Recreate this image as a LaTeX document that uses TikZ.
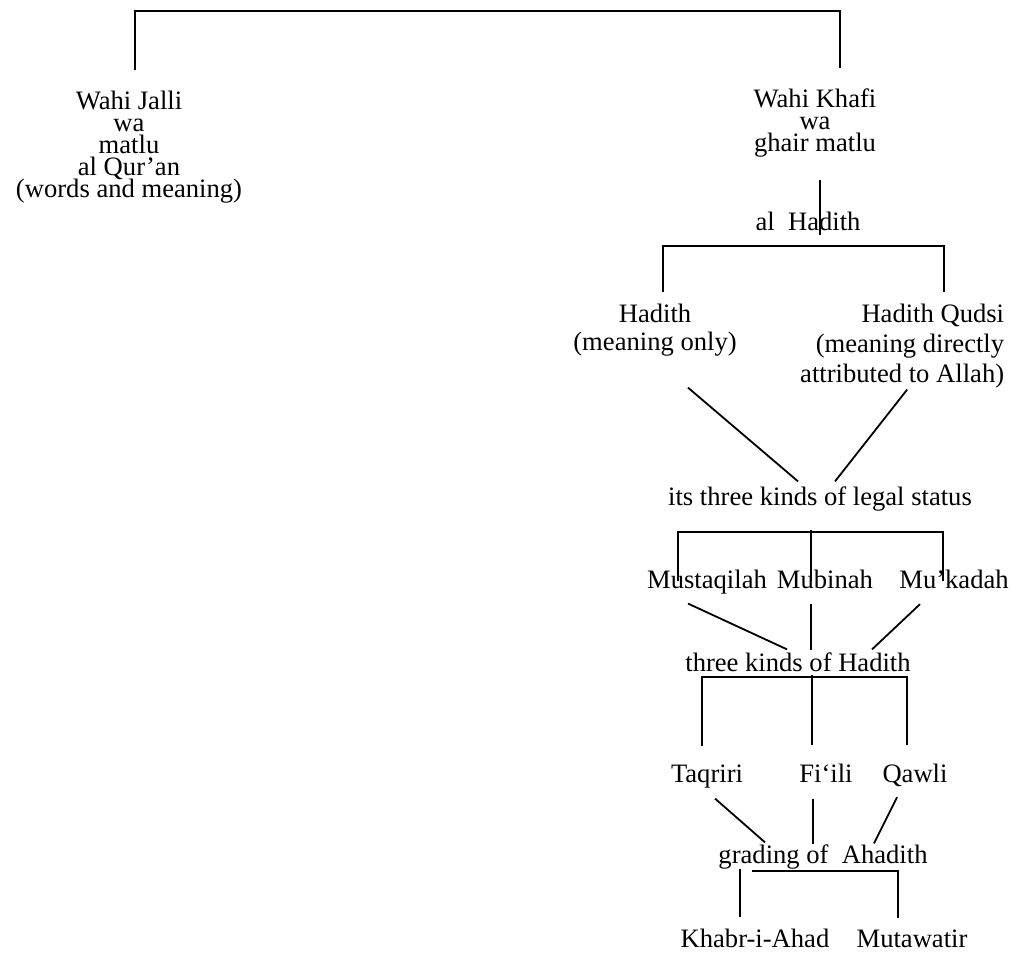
\documentclass[tikz,border=0pt]{standalone}
\usepackage{fontspec}
\setmainfont{Liberation Serif}
\usepackage{tikz}
\lineskiplimit=-20pt
\newcommand{\lblfont}[1]{\fontsize{13.3pt}{#1}\selectfont}
\begin{document}
\begin{tikzpicture}[x=0.5pt,y=-0.5pt,line width=0.9pt,
	lbl/.style={inner sep=0pt,anchor=base,font=\lblfont{11pt}}]
		\useasboundingbox (0,0) rectangle (1020,957);
		\node[lbl,align=center] (jalli) at (129,198) {Wahi Jalli\\wa\\matlu\\al Qur'an\\(words and meaning)};
		\node[lbl,align=center] (khafi) at (815,152) {Wahi Khafi\\wa\\ghair matlu};
		\node[lbl] (alhad) at (808,230) {al\ \ Hadith};
		\node[lbl,align=center,font=\lblfont{14pt}] (hd) at (655,350) {Hadith\\(meaning only)};
		\node[lbl,align=right,anchor=base east,font=\lblfont{15pt}] (hq) at (1005,382) {Hadith Qudsi\\(meaning directly\\attributed to Allah)};
		\node[lbl] (legal) at (820,505) {its three kinds of legal status};
		\node[lbl] (mus) at (707,588) {Mustaqilah};
		\node[lbl] (mub) at (825,588) {Mubinah};
		\node[lbl] (muk) at (954,588) {Mu'kadah};
		\node[lbl] (kinds) at (798,671) {three kinds of Hadith};
		\node[lbl] (taq) at (707,782) {Taqriri};
		\node[lbl] (fil) at (826,782) {Fi`ili};
		\node[lbl] (qaw) at (915,782) {Qawli};
		\node[lbl] (grad) at (823,863) {grading of\ \ Ahadith};
		\node[lbl] (khabr) at (755,947) {Khabr-i-Ahad};
		\node[lbl] (mut) at (912,947) {Mutawatir};
		% brackets
		\draw ([shift={(6,-21)}]jalli.north) -- ++(0,-59) -| ([shift={(25,-20)}]khafi.north);
		\draw ([shift={(5,21)}]khafi.south) -- ([shift={(12,5)}]alhad.base);
		\draw ([shift={(8,-11)}]hd.north) |- ([yshift=-7.5pt]alhad.south) -| ([shift={(42,-11)}]hq.north);
		\draw ([shift={(33,31)}]hd.south) -- ([shift={(-22,-4)}]legal.north);
		\draw ([shift={(5,1)}]hq.south) -- ([shift={(15,-4)}]legal.north);
		\draw ([shift={(-29,12)}]mus.north) |- ([yshift=-10pt]legal.south) -| ([shift={(-11,12)}]muk.north);
		\draw ([shift={(-14,12)}]mub.north) -- ++(0,-51);
		\draw ([shift={(-19,9)}]mus.south) -- ([shift={(-11,-2)}]kinds.north);
		\draw ([shift={(-14,15)}]mub.south) -- ([shift={(13,-1)}]kinds.north);
		\draw ([shift={(-34,15)}]muk.south) -- ([shift={(74,-2)}]kinds.north);
		\draw ([shift={(-5,-18)}]taq.north) |- ([yshift=-2.5pt]kinds.south) -| ([shift={(-8,-18)}]qaw.north);
		\draw ([shift={(-14,-18)}]fil.north) -- ++(0,-70);
		\draw ([shift={(8,10)}]taq.south) -- ([shift={(-58,-1)}]grad.north);
		\draw ([shift={(-13,16)}]fil.south) -- ([shift={(-10,1)}]grad.north);
		\draw ([shift={(-18,10)}]qaw.south) -- ([shift={(51,0)}]grad.north);
		\draw ([shift={(-71,1)}]grad.south) -| ([shift={(-14,-11)}]mut.north);
		\draw ([shift={(-15,-11)}]khabr.north) -- ++(0,-48);
	\end{tikzpicture}
\end{document}
